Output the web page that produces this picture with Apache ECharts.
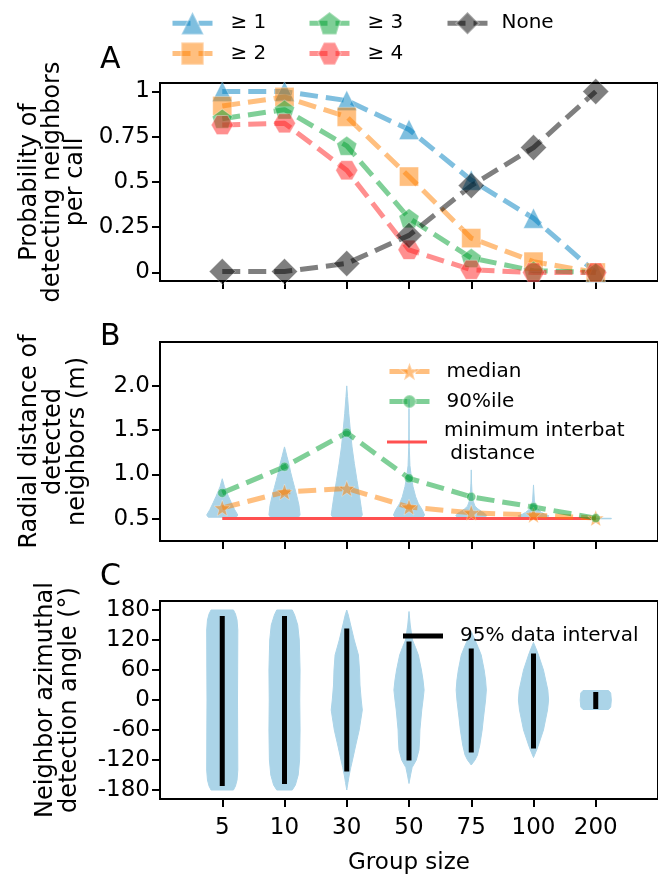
<!DOCTYPE html>
<html>
<head>
<meta charset="utf-8">
<script src="https://cdn.jsdelivr.net/npm/echarts@6/dist/echarts.min.js"></script>
<style>
  html, body { margin: 0; padding: 0; background: #fff; }
  #chart { width: 658px; height: 876px; }
</style>
</head>
<body>
<div id="chart"></div>
<script>
// group sizes (x categories, shared by all panels)
const groups = ['5', '10', '30', '50', '75', '100', '200'];

// A: probability of detecting neighbours per call
const atLeast1 = [1.0, 1.0, 0.95, 0.79, 0.51, 0.30, 0.0];
const atLeast2 = [0.92, 0.97, 0.86, 0.53, 0.19, 0.06, 0.0];
const atLeast3 = [0.85, 0.90, 0.70, 0.30, 0.08, 0.01, 0.0];
const atLeast4 = [0.815, 0.825, 0.565, 0.125, 0.015, 0.0, 0.0];
const noneDetected = [0.005, 0.005, 0.05, 0.205, 0.48, 0.69, 1.0];
const aTicks = [0, 0.25, 0.5, 0.75, 1];

// B: radial distance of detected neighbours (m)
const medianDist = [0.62, 0.80, 0.84, 0.63, 0.565, 0.54, 0.505];
const p90Dist = [0.79, 1.085, 1.47, 0.955, 0.745, 0.63, 0.505];
const minInterbat = 0.5;
const bTicks = [0.5, 1.0, 1.5, 2.0];
const bTickLabels = ['0.5', '1.0', '1.5', '2.0'];
// violin outlines, [distance, relative half width]
const distViolins = [
  [[0.515, 0.9], [0.54, 1], [0.6, 0.8], [0.68, 0.58], [0.75, 0.4], [0.86, 0.14], [0.95, 0]],
  [[0.515, 0.9], [0.54, 1], [0.65, 0.93], [0.75, 0.8], [0.85, 0.65], [0.93, 0.53], [1.02, 0.4], [1.12, 0.28], [1.2, 0.16], [1.31, 0]],
  [[0.515, 0.9], [0.54, 1], [0.6, 0.95], [0.745, 0.83], [0.93, 0.66], [1.12, 0.49], [1.31, 0.34], [1.5, 0.23], [1.69, 0.13], [1.88, 0.05], [2.0, 0]],
  [[0.515, 0.9], [0.54, 1], [0.6, 0.85], [0.67, 0.6], [0.745, 0.43], [0.86, 0.26], [0.97, 0.15], [1.1, 0.06], [1.3, 0.02], [1.85, 0]],
  [[0.515, 0.9], [0.535, 1], [0.56, 0.85], [0.58, 0.66], [0.61, 0.42], [0.64, 0.24], [0.7, 0.12], [0.8, 0.05], [0.9, 0.02], [1.05, 0]],
  [[0.515, 0.85], [0.53, 1], [0.55, 0.7], [0.57, 0.5], [0.6, 0.3], [0.63, 0.15], [0.7, 0.06], [0.8, 0.025], [0.88, 0]],
  [[0.497, 1], [0.503, 1]]
];

// C: neighbour azimuthal detection angle (deg)
const angleViolins = [
  [[-180, 0.72], [-172, 0.85], [-160, 0.95], [-140, 1], [-60, 0.99], [0, 0.98], [60, 0.99], [140, 1], [160, 0.95], [172, 0.85], [180, 0.72]],
  [[-180, 0.5], [-170, 0.7], [-150, 0.88], [-120, 0.97], [-60, 1], [0, 0.98], [60, 1], [120, 0.95], [150, 0.85], [170, 0.65], [180, 0.5]],
  [[-180, 0], [-165, 0.08], [-150, 0.16], [-135, 0.26], [-120, 0.37], [-90, 0.58], [-60, 0.8], [-20, 1], [0, 0.93], [30, 0.85], [60, 0.82], [90, 0.75], [120, 0.48], [150, 0.25], [170, 0.1], [180, 0]],
  [[-167, 0], [-150, 0.1], [-135, 0.2], [-120, 0.47], [-100, 0.64], [-80, 0.68], [-60, 0.7], [-20, 0.82], [0, 0.9], [20, 0.97], [40, 0.9], [60, 0.8], [90, 0.6], [105, 0.42], [120, 0.22], [150, 0.08], [177, 0]],
  [[-130, 0], [-120, 0.24], [-110, 0.4], [-90, 0.55], [-60, 0.7], [-40, 0.77], [0, 0.92], [20, 0.97], [40, 0.92], [60, 0.83], [90, 0.64], [105, 0.45], [120, 0.24], [137, 0]],
  [[-115, 0], [-100, 0.2], [-90, 0.32], [-60, 0.64], [-20, 0.9], [0, 0.97], [20, 0.92], [60, 0.64], [90, 0.32], [100, 0.2], [115, 0]],
  [[-19, 0.82], [-14, 0.96], [0, 1], [14, 0.96], [19, 0.82]]
];
const interval95Low = [-172, -168, -143, -121, -105, -97, -18];
const interval95High = [168, 168, 143, 117, 103, 93, 16];
const cTicks = [-180, -120, -60, 0, 60, 120, 180];

const font = 'DejaVu Sans';
const idx = groups.map((g, i) => i);
const blue = '#0080c0', orange = '#ff8000', green = '#00a030', red = '#ff2020', grey = '#000000';
const violinColor = '#abd4e8';
const violinHalf = 0.25;
const dash = [18, 8];

const pentagon = 'path://M0,-1L0.951,-0.309L0.588,0.809L-0.588,0.809L-0.951,-0.309Z';
const hexagon = 'path://M-1,0L-0.5,-0.866L0.5,-0.866L1,0L0.5,0.866L-0.5,0.866Z';
function starPath() {
  let d = '';
  for (let k = 0; k < 10; k++) {
    const a = (-90 + 36 * k) * Math.PI / 180, r = k % 2 ? 0.42 : 1;
    d += (k ? 'L' : 'M') + (r * Math.cos(a)).toFixed(3) + ',' + (r * Math.sin(a)).toFixed(3);
  }
  return 'path://' + d + 'Z';
}

function probSeries(name, values, symbol, size, color) {
  return {
    type: 'line', name: name, xAxisIndex: 0, yAxisIndex: 0,
    data: values.map((v, i) => [i, v]),
    symbol: symbol, symbolSize: size,
    lineStyle: { color: color, width: 5, type: dash, opacity: 0.5 },
    itemStyle: { color: color, opacity: 0.5, borderColor: 'rgba(255,255,255,0.6)', borderWidth: 1 }
  };
}

function violinRender(profiles) {
  return function (params, api) {
    const prof = profiles[params.dataIndex];
    const i = api.value(0);
    const right = prof.map(p => api.coord([i + p[1] * violinHalf, p[0]]));
    const left = prof.slice().reverse().map(p => api.coord([i - p[1] * violinHalf, p[0]]));
    return {
      type: 'polygon',
      shape: { points: right.concat(left) },
      style: { fill: violinColor, stroke: violinColor, lineWidth: 1 }
    };
  };
}

function xAxis(gridIndex, withLabels) {
  return {
    type: 'value', gridIndex: gridIndex, min: -1, max: 7,
    axisLine: { show: true, onZero: false, lineStyle: { color: '#000', width: 2 } },
    axisTick: { show: true, customValues: idx, length: 8, lineStyle: { color: '#000', width: 2 } },
    axisLabel: {
      show: withLabels, customValues: idx, formatter: v => groups[v],
      color: '#000', fontSize: 23, fontFamily: font, margin: 18
    },
    splitLine: { show: false },
    name: withLabels ? 'Group size' : '', nameLocation: 'middle', nameGap: 53,
    nameTextStyle: { color: '#000', fontSize: 23, fontFamily: font }
  };
}

function yAxis(gridIndex, min, max, ticks, fmt, name, gap, lh) {
  return {
    type: 'value', gridIndex: gridIndex, min: min, max: max,
    axisLine: { show: true, onZero: false, lineStyle: { color: '#000', width: 2 } },
    axisTick: { show: true, customValues: ticks, length: 8, lineStyle: { color: '#000', width: 2 } },
    axisLabel: { customValues: ticks, formatter: fmt, color: '#000', fontSize: 23, fontFamily: font, margin: 10 },
    splitLine: { show: false },
    name: name, nameLocation: 'middle', nameRotate: 90, nameGap: gap,
    nameTextStyle: { color: '#000', fontSize: 24, lineHeight: lh, fontFamily: font, align: 'center' }
  };
}

function legend(names, left, top, h, pad, extra) {
  return Object.assign({
    data: names, left: left, top: top, orient: 'vertical', padding: 0,
    itemWidth: 40, itemHeight: h, itemGap: 3, selectedMode: false,
    lineStyle: { width: 5, type: dash },
    textStyle: { fontSize: 20, lineHeight: 23, fontFamily: font, color: '#000', padding: [0, 0, 0, pad] }
  }, extra || {});
}

const chart = echarts.init(document.getElementById('chart'));
chart.setOption({
  animation: false,
  textStyle: { fontFamily: font },
  title: [
    { text: 'A', left: 100, top: 45, padding: 0, textStyle: { fontSize: 30, fontWeight: 'normal', color: '#000', fontFamily: font } },
    { text: 'B', left: 100, top: 322, padding: 0, textStyle: { fontSize: 30, fontWeight: 'normal', color: '#000', fontFamily: font } },
    { text: 'C', left: 100, top: 562, padding: 0, textStyle: { fontSize: 30, fontWeight: 'normal', color: '#000', fontFamily: font } }
  ],
  legend: [
    legend(['≥ 1', '≥ 2'], 170, 11, 28, 13, { itemGap: 6 }),
    legend(['≥ 3', '≥ 4'], 307, 11, 28, 13, { itemGap: 6 }),
    legend(['None'], 445, 11, 28, 9),
    legend(['median'], 387, 360, 22, 12),
    legend(['90%ile'], 387, 390, 16, 12),
    legend(['minimum interbat\n distance'], 387, 419, 3, 12, { icon: 'rect' }),
    legend(['95% data interval'], 403, 624.5, 5, 12, { icon: 'rect' })
  ],
  grid: [
    { left: 160, top: 83, width: 500, height: 198, show: true, borderColor: '#000', borderWidth: 2 },
    { left: 160, top: 342, width: 500, height: 199, show: true, borderColor: '#000', borderWidth: 2 },
    { left: 160, top: 601, width: 500, height: 198, show: true, borderColor: '#000', borderWidth: 2 }
  ],
  xAxis: [xAxis(0, false), xAxis(1, false), xAxis(2, true)],
  yAxis: [
    yAxis(0, -0.047, 1.047, aTicks, v => String(v), 'Probability of\ndetecting neighbors\nper call', 72, 23),
    yAxis(1, 0.246, 2.496, bTicks, v => bTickLabels[bTicks.indexOf(v)], 'Radial distance of\ndetected\nneighbors (m)', 70, 24),
    yAxis(2, -198, 198, cTicks, v => String(v), 'Neighbor azimuthal\ndetection angle (°)', 78, 24)
  ],
  series: [
    probSeries('≥ 1', atLeast1, 'triangle', 20, blue),
    probSeries('≥ 2', atLeast2, 'rect', 19, orange),
    probSeries('≥ 3', atLeast3, pentagon, [20, 19], green),
    probSeries('≥ 4', atLeast4, hexagon, [22, 19], red),
    probSeries('None', noneDetected, 'diamond', 26, grey),
    {
      type: 'custom', name: 'distance violins', xAxisIndex: 1, yAxisIndex: 1,
      data: idx.map(i => [i]), renderItem: violinRender(distViolins), silent: true
    },
    {
      type: 'line', name: 'minimum interbat\n distance', xAxisIndex: 1, yAxisIndex: 1,
      data: [[0, minInterbat], [groups.length - 1, minInterbat]], symbol: 'none',
      lineStyle: { color: '#ff5050', width: 3 }, itemStyle: { color: '#ff5050' }
    },
    {
      type: 'line', name: 'median', xAxisIndex: 1, yAxisIndex: 1,
      data: medianDist.map((v, i) => [i, v]), symbol: starPath(), symbolSize: 16,
      lineStyle: { color: orange, width: 5, type: dash, opacity: 0.5 },
      itemStyle: { color: orange, opacity: 0.5, borderColor: 'rgba(255,255,255,0.6)', borderWidth: 1 }
    },
    {
      type: 'line', name: '90%ile', xAxisIndex: 1, yAxisIndex: 1,
      data: p90Dist.map((v, i) => [i, v]), symbol: 'circle', symbolSize: 9,
      lineStyle: { color: green, width: 5, type: dash, opacity: 0.5 },
      itemStyle: { color: green, opacity: 0.5, borderColor: 'rgba(255,255,255,0.6)', borderWidth: 1 }
    },
    {
      type: 'custom', name: 'angle violins', xAxisIndex: 2, yAxisIndex: 2,
      data: idx.map(i => [i]), renderItem: violinRender(angleViolins), silent: true
    },
    {
      type: 'custom', name: '95% data interval', xAxisIndex: 2, yAxisIndex: 2,
      itemStyle: { color: '#000' },
      data: idx.map(i => [i, interval95Low[i], interval95High[i]]),
      renderItem: function (params, api) {
        const a = api.coord([api.value(0), api.value(1)]);
        const b = api.coord([api.value(0), api.value(2)]);
        return {
          type: 'line',
          shape: { x1: a[0], y1: a[1], x2: b[0], y2: b[1] },
          style: { stroke: '#000', lineWidth: 5 }
        };
      }
    }
  ]
});
</script>
</body>
</html>
